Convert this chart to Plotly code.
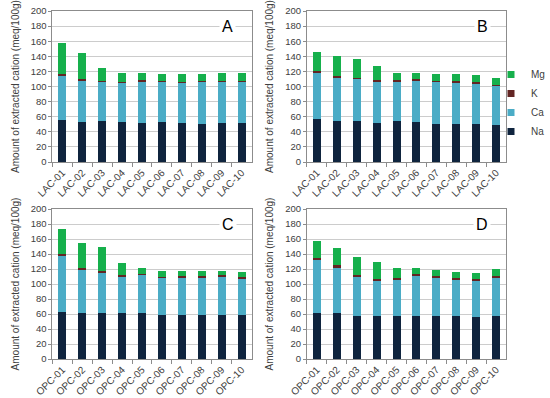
import plotly.graph_objects as go

lac = ["LAC-01", "LAC-02", "LAC-03", "LAC-04", "LAC-05", "LAC-06", "LAC-07", "LAC-08", "LAC-09", "LAC-10"]
opc = ["OPC-01", "OPC-02", "OPC-03", "OPC-04", "OPC-05", "OPC-06", "OPC-07", "OPC-08", "OPC-09", "OPC-10"]

# Panel A
na_a = [56, 53, 54, 53, 52, 53, 52, 51, 52, 52]
ca_a = [58, 55, 52, 52, 54, 53, 53, 55, 54, 54]
k_a = [2, 2, 1, 1, 2, 1, 1, 1, 1.5, 1.5]
mg_a = [41, 34, 18, 12, 10, 10, 10, 10, 10.5, 10.5]
# Panel B
na_b = [57, 54, 54, 52, 54, 53, 51, 51, 51, 49]
ca_b = [61, 58, 56, 54, 52, 55, 55, 54, 53, 52]
k_b = [2, 2, 1, 2, 2, 2, 1, 2, 2, 1]
mg_b = [26, 26, 25, 19, 10, 8, 9, 9, 9, 9]
# Panel C
na_c = [63, 62, 62, 62, 62, 59, 59, 59, 59, 59]
ca_c = [74, 57, 53, 48, 50, 49, 50, 50, 51, 48]
k_c = [3, 2, 2, 2, 2, 2, 2, 2, 2, 2]
mg_c = [33, 34, 32, 16, 7, 7, 6, 7, 6, 7]
# Panel D
na_d = [61, 62, 58, 57, 58, 58, 58, 57, 56, 58]
ca_d = [71, 60, 51, 48, 48, 53, 50, 49, 49, 51]
k_d = [3, 3, 3, 2, 2, 2, 3, 2, 2, 2]
mg_d = [23, 23, 24, 22, 14, 9, 8, 8, 8, 9]

series_names = ["Na", "Ca", "K", "Mg"]
colors = {"Na": "#0f243e", "Ca": "#4bacc6", "K": "#632523", "Mg": "#16b04c"}

panels = [
    ("A", lac, [na_a, ca_a, k_a, mg_a], "x", "y"),
    ("B", lac, [na_b, ca_b, k_b, mg_b], "x2", "y2"),
    ("C", opc, [na_c, ca_c, k_c, mg_c], "x3", "y3"),
    ("D", opc, [na_d, ca_d, k_d, mg_d], "x4", "y4"),
]

W, H = 550, 398
def px(v): return v / W
def py(v): return 1 - v / H

xdom = [(px(52.5), px(252)), (px(307.5), px(507))]
ydom = [(py(162), py(11)), (py(359), py(209))]

fig = go.Figure()
font = "Liberation Sans"
for i, (letter, cats, vals, xa, ya) in enumerate(panels):
    for name, v in zip(series_names, vals):
        fig.add_trace(go.Bar(
            x=cats, y=v, name=name, xaxis=xa, yaxis=ya,
            marker=dict(color=colors[name], line=dict(width=0)),
            width=0.4, showlegend=False, legendgroup=name,
        ))

# legend-only entries with small square markers
for name in series_names:
    fig.add_trace(go.Scatter(
        x=[None], y=[None], mode="markers", name=name, legendgroup=name,
        marker=dict(symbol="square", size=7, color=colors[name]),
        xaxis="x2", yaxis="y2", showlegend=True, hoverinfo="skip",
    ))

layout = dict(
    width=W, height=H, barmode="stack",
    margin=dict(l=0, r=0, t=0, b=0),
    paper_bgcolor="white", plot_bgcolor="white",
    font=dict(family=font, size=10, color="#404040"),
    legend=dict(x=px(492), y=py(60), xanchor="left", yanchor="top",
                traceorder="reversed", font=dict(size=10, color="#404040"),
                itemwidth=30, tracegroupgap=0, bgcolor="rgba(0,0,0,0)"),
    annotations=[],
)

for i in range(4):
    suffix = "" if i == 0 else str(i + 1)
    col = i % 2
    row = i // 2
    layout["xaxis" + suffix] = dict(
        domain=xdom[col], anchor="y" + suffix, type="category", automargin=False,
        showline=True, linecolor="#8c8c8c", linewidth=1, mirror=True,
        ticks="outside", ticklen=4, tickcolor="#8c8c8c", tickson="boundaries",
        tickangle=-45, tickfont=dict(size=10, color="#404040"), showgrid=False,
    )
    layout["yaxis" + suffix] = dict(
        domain=ydom[row], anchor="x" + suffix, range=[0, 200], dtick=20, automargin=False,
        showline=True, linecolor="#8c8c8c", linewidth=1, mirror=True,
        ticks="outside", ticklen=3, tickcolor="#8c8c8c",
        gridcolor="#cccccc", gridwidth=1, zeroline=False,
        tickfont=dict(size=9.5, color="#404040"),
        title=dict(text="Amount of extracted cation (meq/100g)",
                   font=dict(size=10, color="#404040"), standoff=9),
    )
    letter = panels[i][0]
    layout["annotations"].append(dict(
        text=letter, xref="x" + suffix + " domain", yref="y" + suffix + " domain",
        x=0.88, y=0.9, xanchor="center", yanchor="middle", showarrow=False,
        font=dict(size=16, color="#000000"), bgcolor="white", borderpad=2,
    ))

fig.update_layout(**layout)
fig.write_html("out.html", config={"displayModeBar": False},
               post_script="document.body.style.margin='0';document.body.style.padding='0';")
